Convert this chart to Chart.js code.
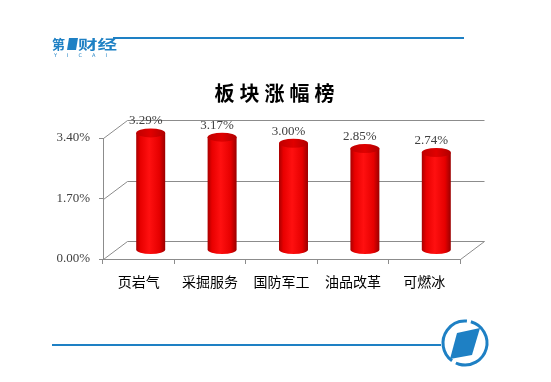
<!DOCTYPE html>
<html>
<head>
<meta charset="utf-8">
<script src="https://cdn.jsdelivr.net/npm/chart.js@4/dist/chart.umd.min.js"></script>
<style>
  html, body { margin: 0; padding: 0; background: #fff; }
  canvas { display: block; }
</style>
</head>
<body>
<canvas id="chart" width="551" height="382"></canvas>
<script>
const categories = ['页岩气', '采掘服务', '国防军工', '油品改革', '可燃冰'];
const changes = [3.29, 3.17, 3.00, 2.85, 2.74];
const yTicks = [0, 1.70, 3.40];
const titleText = '板块涨幅榜';

// depth of the fake 3d box
const depthX = 24;
const depthY = -18;
const blue = '#1e80c4';

const box3d = {
    id: 'box3d',
    beforeDatasetsDraw(chart) {
        const ctx = chart.ctx;
        const area = chart.chartArea;
        const yScale = chart.scales.y;
        ctx.save();
        ctx.strokeStyle = '#8c8c8c';
        ctx.lineWidth = 1;
        for (const v of yTicks) {
            const y = Math.round(yScale.getPixelForValue(v)) + 0.5;
            ctx.beginPath();
            ctx.moveTo(area.left + 0.5, y);
            ctx.lineTo(area.left + depthX + 0.5, y + depthY);
            ctx.lineTo(area.right + depthX + 0.5, y + depthY);
            ctx.stroke();
        }
        const base = Math.round(yScale.getPixelForValue(0)) + 0.5;
        ctx.beginPath();
        ctx.moveTo(area.right + 0.5, base);
        ctx.lineTo(area.right + depthX + 0.5, base + depthY);
        ctx.stroke();
        ctx.restore();
    },
    afterDatasetsDraw(chart) {
        const ctx = chart.ctx;
        const meta = chart.getDatasetMeta(0);
        ctx.save();
        meta.data.forEach((bar, i) => {
            const rx = bar.width / 2;
            const ry = 4.5;
            const cx = bar.x + depthX / 2;
            const top = bar.y + depthY / 2;
            const bottom = bar.base + depthY / 2;
            const grad = ctx.createLinearGradient(cx - rx, 0, cx + rx, 0);
            grad.addColorStop(0, '#a80000');
            grad.addColorStop(0.15, '#e80000');
            grad.addColorStop(0.45, '#ff1010');
            grad.addColorStop(0.8, '#e60000');
            grad.addColorStop(1, '#9a0000');
            ctx.fillStyle = grad;
            ctx.beginPath();
            ctx.moveTo(cx - rx, top);
            ctx.lineTo(cx - rx, bottom);
            ctx.ellipse(cx, bottom, rx, ry, 0, Math.PI, 0, true);
            ctx.lineTo(cx + rx, top);
            ctx.closePath();
            ctx.fill();
            const topGrad = ctx.createLinearGradient(cx - rx, 0, cx + rx, 0);
            topGrad.addColorStop(0, '#c00000');
            topGrad.addColorStop(0.5, '#e00000');
            topGrad.addColorStop(1, '#b00000');
            ctx.fillStyle = topGrad;
            ctx.beginPath();
            ctx.ellipse(cx, top, rx, ry, 0, 0, Math.PI * 2);
            ctx.fill();

            ctx.fillStyle = '#404040';
            ctx.font = '13px "Liberation Serif", serif';
            ctx.textAlign = 'center';
            ctx.textBaseline = 'alphabetic';
            ctx.fillText(changes[i].toFixed(2) + '%', cx - 5, top - ry - 4);
        });
        ctx.restore();
    },
    afterDraw(chart) {
        const ctx = chart.ctx;
        ctx.save();
        // title
        ctx.fillStyle = '#000';
        ctx.font = 'bold 20px "Noto Sans CJK SC", sans-serif';
        ctx.letterSpacing = '5px';
        ctx.textAlign = 'center';
        ctx.textBaseline = 'middle';
        ctx.fillText(titleText, 277, 93);
        ctx.letterSpacing = '0px';

        // header logo and rule
        ctx.fillStyle = blue;
        ctx.strokeStyle = blue;
        ctx.lineWidth = 2;
        ctx.beginPath();
        ctx.moveTo(113, 38);
        ctx.lineTo(464, 38);
        ctx.stroke();
        ctx.font = 'bold 13px "Noto Sans CJK SC", sans-serif';
        ctx.textAlign = 'left';
        ctx.fillText('第', 52, 44);
        ctx.beginPath();
        ctx.moveTo(69, 38);
        ctx.lineTo(78, 38);
        ctx.lineTo(76, 50);
        ctx.lineTo(67, 50);
        ctx.closePath();
        ctx.fill();
        ctx.save();
        ctx.translate(78, 44);
        ctx.scale(1.5, 1);
        ctx.fillText('财经', 0, 0);
        ctx.restore();
        ctx.font = '5px "DejaVu Sans", sans-serif';
        ctx.letterSpacing = '10px';
        ctx.fillText('YICAI', 54, 56);
        ctx.letterSpacing = '0px';

        // footer rule and badge
        ctx.beginPath();
        ctx.moveTo(52, 345);
        ctx.lineTo(441, 345);
        ctx.stroke();
        ctx.lineWidth = 3;
        ctx.beginPath();
        ctx.arc(465, 343, 22, -1.3, 2.0);
        ctx.stroke();
        ctx.beginPath();
        ctx.arc(465, 343, 22, 2.2, 4.8);
        ctx.stroke();
        ctx.beginPath();
        ctx.moveTo(457, 333);
        ctx.lineTo(480, 328);
        ctx.lineTo(472, 355);
        ctx.lineTo(450, 359);
        ctx.closePath();
        ctx.fill();
        ctx.restore();
    }
};

new Chart(document.getElementById('chart'), {
    type: 'bar',
    data: {
        labels: categories,
        datasets: [{
            data: changes,
            backgroundColor: 'rgba(0,0,0,0)',
            borderWidth: 0,
            barPercentage: 0.406,
            categoryPercentage: 1
        }]
    },
    options: {
        responsive: false,
        animation: false,
        devicePixelRatio: 1,
        layout: {
            padding: { left: 43, right: 91, top: 138, bottom: 0 }
        },
        plugins: {
            legend: { display: false },
            tooltip: { enabled: false },
            title: { display: false }
        },
        scales: {
            x: {
                offset: true,
                grid: {
                    display: true,
                    drawOnChartArea: false,
                    drawTicks: true,
                    tickLength: 5,
                    offset: true,
                    color: '#8c8c8c'
                },
                border: { display: true, color: '#8c8c8c' },
                ticks: {
                    color: '#000',
                    padding: 9,
                    font: { family: '"Noto Sans CJK SC", sans-serif', size: 14 }
                },
                afterFit(scale) { scale.height = 123; }
            },
            y: {
                min: 0,
                max: 3.4,
                afterBuildTicks(scale) {
                    scale.ticks = yTicks.map(v => ({ value: v }));
                },
                grid: {
                    display: true,
                    drawOnChartArea: false,
                    drawTicks: true,
                    tickLength: 4,
                    color: '#8c8c8c'
                },
                border: { display: true, color: '#8c8c8c' },
                ticks: {
                    color: '#404040',
                    padding: 9,
                    font: { family: '"Liberation Serif", serif', size: 13 },
                    callback: (v) => Number(v).toFixed(2) + '%'
                },
                afterFit(scale) { scale.width = 60; }
            }
        }
    },
    plugins: [box3d]
});
</script>
</body>
</html>
